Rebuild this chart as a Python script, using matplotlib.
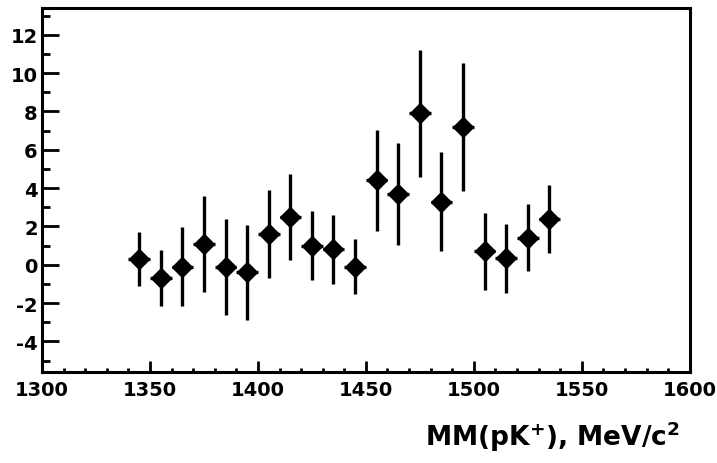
import numpy as np
import matplotlib.pyplot as plt
from matplotlib.ticker import MultipleLocator

# Missing-mass bins (MeV/c^2), counts and errors
mass = [1345, 1355, 1365, 1375, 1385, 1395, 1405, 1415, 1425, 1435,
        1445, 1455, 1465, 1475, 1485, 1495, 1505, 1515, 1525, 1535]
counts = [0.3, -0.7, -0.1, 1.1, -0.1, -0.4, 1.6, 2.5, 1.0, 0.8,
          -0.1, 4.4, 3.7, 7.9, 3.3, 7.2, 0.7, 0.35, 1.4, 2.4]
errors = [1.4, 1.45, 2.05, 2.5, 2.5, 2.5, 2.3, 2.25, 1.8, 1.8,
          1.45, 2.65, 2.65, 3.3, 2.6, 3.33, 2.0, 1.8, 1.75, 1.77]
bin_half = 5

plt.rcParams['font.family'] = ['DejaVu Sans']
plt.rcParams['font.weight'] = 'bold'
plt.rcParams['axes.unicode_minus'] = False

fig = plt.figure(figsize=(7.17, 4.64), dpi=100)
ax = fig.add_axes([0.0586, 0.196, 0.9034, 0.7846])

ax.errorbar(mass, counts, yerr=errors, xerr=bin_half, fmt='D', color='black',
            markersize=10, elinewidth=2.4, capsize=0)

ax.set_xlim(1300, 1600)
ax.set_ylim(-5.6, 13.4)
ax.xaxis.set_major_locator(MultipleLocator(50))
ax.xaxis.set_minor_locator(MultipleLocator(10))
ax.yaxis.set_major_locator(MultipleLocator(2))
ax.yaxis.set_minor_locator(MultipleLocator(1))
ax.set_yticks([-4, -2, 0, 2, 4, 6, 8, 10, 12])

ax.tick_params(which='both', direction='in', width=2, labelsize=14)
ax.tick_params(axis='y', which='major', length=12, pad=3)
ax.tick_params(axis='y', which='minor', length=6)
ax.tick_params(axis='x', which='major', length=8, pad=6)
ax.tick_params(axis='x', which='minor', length=3)
for lab in ax.get_xticklabels() + ax.get_yticklabels():
    lab.set_fontweight('bold')

for s in ax.spines.values():
    s.set_linewidth(2.2)

fig.text(0.948, 0.058, r'MM(pK$^{\mathbf{+}}$), MeV/c$^{\mathbf{2}}$',
         ha='right', va='center', fontsize=19, fontweight='bold')

fig.savefig('out.png', dpi=100)
